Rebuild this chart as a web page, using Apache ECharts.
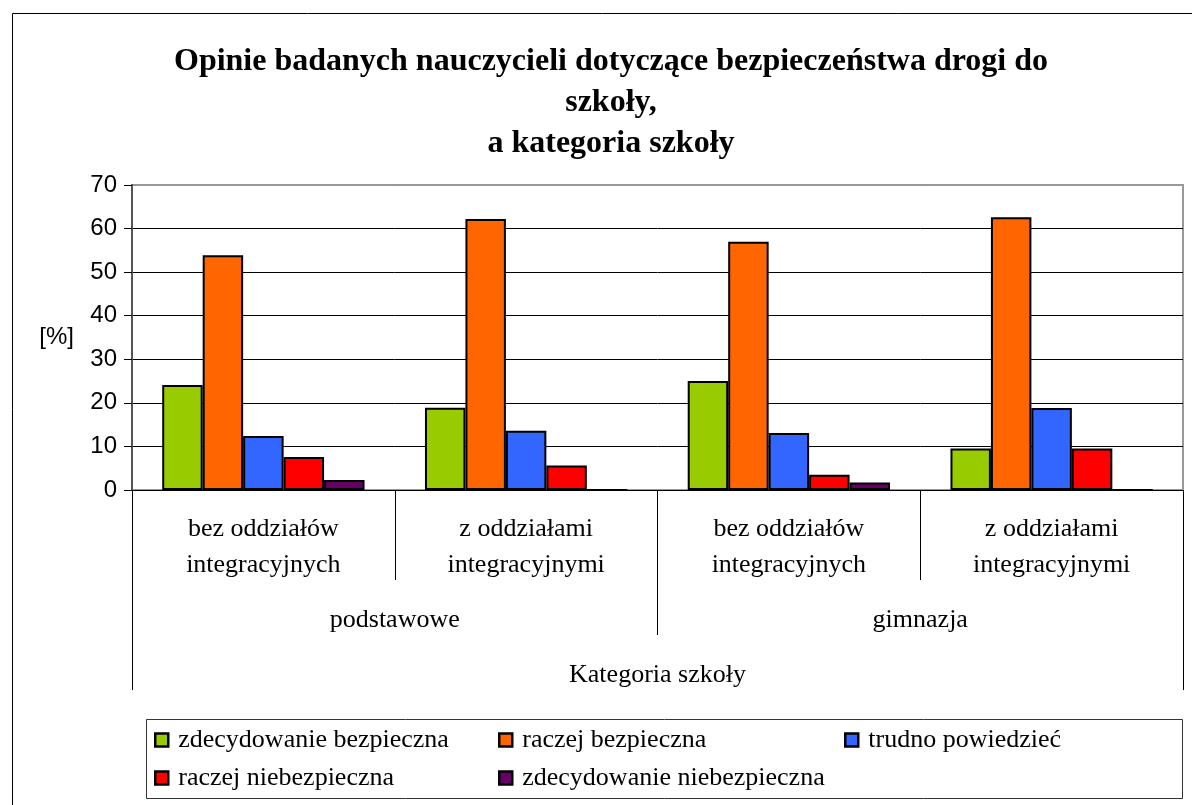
<!DOCTYPE html>
<html>

<head>
    <meta charset="utf-8">
    <title>Opinie nauczycieli</title>
    <style>
        html, body { margin: 0; padding: 0; background: #fff; }
    </style>
</head>

<body>
    <div id="chart" style="width: 1192px;height: 805px;"></div>

    <script src="https://cdn.jsdelivr.net/npm/echarts@6/dist/echarts.min.js"></script>
    <script>
        const chart = echarts.init(document.getElementById('chart'));

        // kategorie
        const schoolTypes = ['bez oddziałów\nintegracyjnych', 'z oddziałami\nintegracyjnymi',
            'bez oddziałów\nintegracyjnych', 'z oddziałami\nintegracyjnymi'];
        const schoolLevels = ['podstawowe', 'gimnazja'];
        const axisTitle = ['Kategoria szkoły'];

        // wartości [%]
        const seriesNames = ['zdecydowanie bezpieczna', 'raczej bezpieczna', 'trudno powiedzieć',
            'raczej niebezpieczna', 'zdecydowanie niebezpieczna'];
        const zdecBezp = [24.1, 18.9, 25.0, 9.5];
        const raczejBezp = [53.9, 62.2, 57.0, 62.6];
        const trudno = [12.4, 13.6, 13.1, 18.8];
        const raczejNiebezp = [7.6, 5.6, 3.5, 9.5];
        const zdecNiebezp = [2.3, 0, 1.7, 0];
        const colors = ['#99cc00', '#ff6600', '#3366ff', '#ff0000', '#660066'];

        const yTicks = { min: 0, max: 70, interval: 10 };

        const serif = 'Liberation Serif';
        const sans = 'Liberation Sans';

        const values = [zdecBezp, raczejBezp, trudno, raczejNiebezp, zdecNiebezp];
        const series = values.map((data, i) => ({
            name: seriesNames[i],
            type: 'bar',
            xAxisIndex: 0,
            barGap: '0%',
            barCategoryGap: '23%',
            itemStyle: { color: colors[i], borderColor: '#000', borderWidth: 2 },
            data: data
        }));

        // poziom osi X
        function levelAxis(data, tickLen, margin) {
            return {
                type: 'category',
                position: 'bottom',
                data: data,
                axisLine: { show: true, lineStyle: { color: '#000', width: 1 } },
                axisTick: { show: true, length: tickLen, interval: 0, lineStyle: { color: '#000', width: 1 } },
                axisLabel: {
                    interval: 0, margin: margin, color: '#000',
                    fontFamily: serif, fontSize: 26, lineHeight: 36
                },
                splitLine: { show: false }
            };
        }

        // legenda w trzech kolumnach
        const legendStyle = {
            orient: 'vertical',
            top: 727,
            padding: 0,
            icon: 'path://M0,0L10,0L10,10L0,10Z',
            itemWidth: 13,
            itemHeight: 13,
            itemGap: 12,
            itemStyle: { borderColor: '#000', borderWidth: 2.5 },
            textStyle: { fontFamily: serif, fontSize: 26, lineHeight: 26, color: '#000', padding: [0, 0, 0, 5] }
        };

        const option = {
            animation: false,
            backgroundColor: '#fff',
            title: {
                text: 'Opinie badanych nauczycieli dotyczące bezpieczeństwa drogi do\nszkoły,\na kategoria szkoły',
                left: 606,
                top: 36,
                textAlign: 'center',
                textStyle: { fontFamily: serif, fontWeight: 'bold', fontSize: 32, lineHeight: 41, color: '#000' }
            },
            grid: {
                left: 132, right: 9, top: 185, bottom: 315,
                show: true, borderColor: '#999', borderWidth: 2, backgroundColor: '#fff'
            },
            legend: [
                Object.assign({ left: 154, data: [seriesNames[0], seriesNames[3]] }, legendStyle),
                Object.assign({ left: 498, data: [seriesNames[1], seriesNames[4]] }, legendStyle),
                Object.assign({ left: 844, data: [seriesNames[2]] }, legendStyle)
            ],
            xAxis: [
                levelAxis(schoolTypes, 90, 21),
                levelAxis(schoolLevels, 145, 112),
                levelAxis(axisTitle, 200, 167)
            ],
            yAxis: {
                type: 'value',
                min: yTicks.min,
                max: yTicks.max,
                interval: yTicks.interval,
                name: '[%]',
                nameLocation: 'middle',
                nameRotate: 0,
                nameGap: 58,
                nameTextStyle: { fontFamily: sans, fontSize: 24, color: '#000' },
                axisLine: { show: true, lineStyle: { color: '#555', width: 2 } },
                axisTick: { show: true, length: 8, lineStyle: { color: '#000', width: 1 } },
                axisLabel: { margin: 15, fontFamily: sans, fontSize: 24, color: '#000' },
                splitLine: {
                    show: true,
                    lineStyle: { color: ['#000', '#000', '#000', '#000', '#000', '#000', '#000', '#999'], width: 1 }
                }
            },
            graphic: [
                {
                    type: 'rect', left: 10, top: 11, z: -10,
                    shape: { width: 1200, height: 820 },
                    style: { fill: null, stroke: '#000', lineWidth: 1 }
                },
                {
                    type: 'rect', left: 144, top: 717,
                    shape: { width: 1036, height: 79 },
                    style: { fill: null, stroke: '#333', lineWidth: 1 }
                }
            ],
            series: series
        };

        chart.setOption(option);
    </script>
</body>

</html>
